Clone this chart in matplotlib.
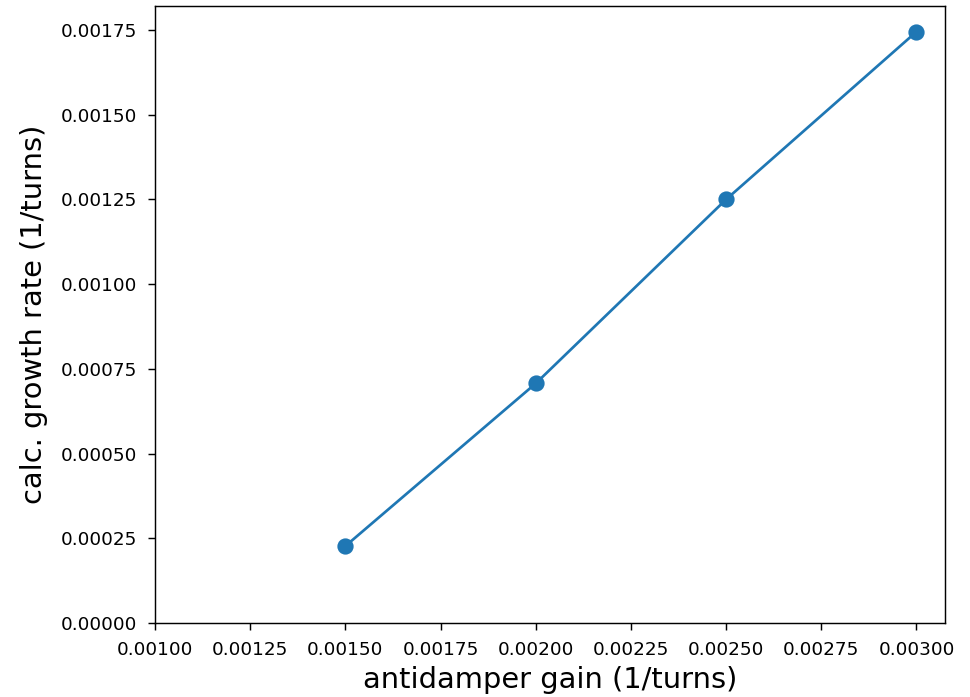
import matplotlib
matplotlib.use("Agg")
import matplotlib.pyplot as plt

# antidamper gain vs calculated growth rate
gain = [0.0015, 0.0020, 0.0025, 0.0030]
growth_rate = [0.000227, 0.000707, 0.001250, 0.001745]

dpi = 130
fig = plt.figure(figsize=(970 / dpi, 697 / dpi), dpi=dpi)
ax = fig.add_axes([155 / 970, 1 - 623 / 697, (945 - 155) / 970, (623 - 6) / 697])

ax.plot(gain, growth_rate, "o-", color="#1f77b4", markersize=8, linewidth=1.5)
ax.set_xlim(left=0.001)
ax.set_ylim(bottom=0)

ax.tick_params(axis="both", labelsize=10.2, pad=6, length=3.8)
ax.set_xlabel("antidamper gain (1/turns)", fontsize=16, labelpad=4)
ax.set_ylabel("calc. growth rate (1/turns)", fontsize=16, labelpad=7)

fig.savefig("out.png", dpi=dpi)
